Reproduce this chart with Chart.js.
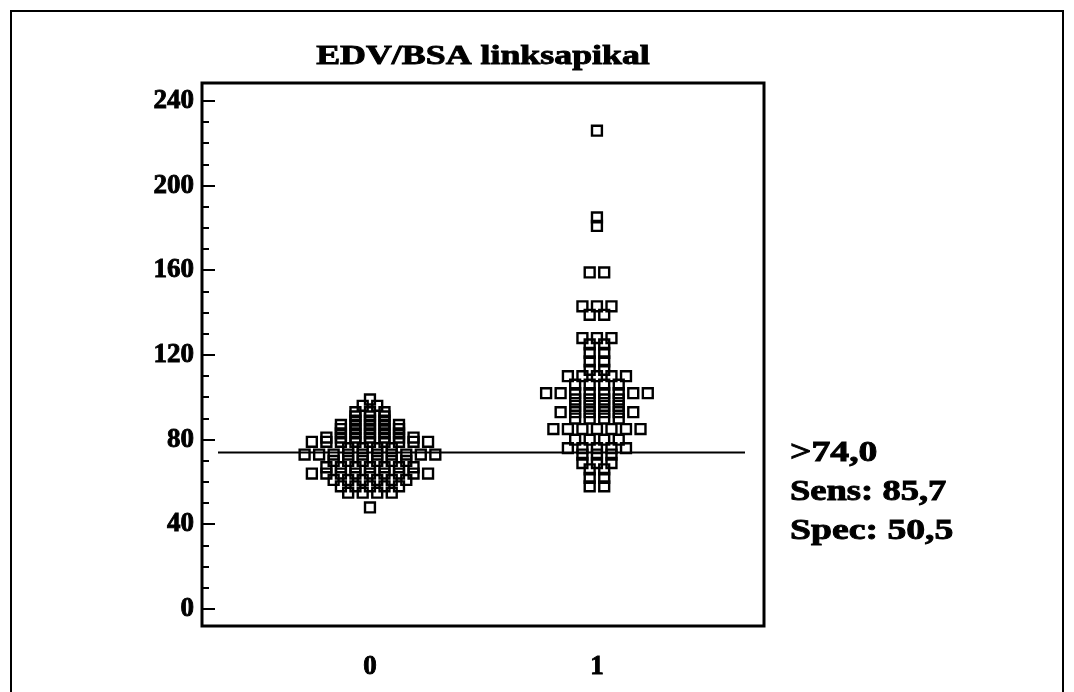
<!DOCTYPE html>
<html>
<head>
<meta charset="utf-8">
<script src="https://cdn.jsdelivr.net/npm/chart.js@4.4.1/dist/chart.umd.min.js"></script>
<style>
  html, body { margin: 0; padding: 0; background: #fff; }
  #wrap { width: 1074px; height: 692px; }
</style>
</head>
<body>
<div id="wrap"><canvas id="myChart" width="1074" height="692"></canvas></div>
<script>
var TITLE = 'EDV/BSA linksapikal';
var GROUPS = [0, 1];
var CUTOFF = 74;
var SENS = '85,7';
var SPEC = '50,5';

// EDV/BSA values per group
var group0 = [
    99,
    96, 96,
    93, 93, 93,
    91, 91, 91,
    89, 89, 89,
    87, 87, 87, 87, 87,
    85, 85, 85, 85, 85,
    83, 83, 83, 83, 83,
    81, 81, 81, 81, 81, 81, 81,
    79, 79, 79, 79, 79, 79, 79, 79, 79,
    76, 76, 76, 76,
    73, 73, 73, 73, 73, 73, 73, 73, 73, 73,
    70, 70, 70, 70, 70, 70,
    67, 67, 67, 67, 67, 67, 67,
    64, 64, 64, 64, 64, 64, 64, 64, 64,
    61, 61, 61, 61, 61, 61,
    58, 58, 58, 58, 58,
    55, 55, 55, 55,
    48
];
var group1 = [
    226,
    185,
    181,
    159, 159,
    143, 143, 143,
    139, 139,
    128, 128, 128,
    125, 125,
    121, 121,
    117, 117,
    113, 113,
    110, 110, 110, 110, 110,
    106, 106, 106, 106,
    102, 102, 102, 102, 102, 102, 102, 102,
    99, 99, 99, 99,
    96, 96, 96, 96,
    93, 93, 93, 93, 93, 93,
    90, 90, 90, 90,
    85, 85, 85, 85, 85, 85, 85,
    80, 80, 80, 80,
    76, 76, 76, 76, 76,
    73, 73, 73,
    69, 69, 69,
    66, 66,
    62, 62,
    58, 58
];
var yTicks = [0, 40, 80, 120, 160, 200, 240];

var SLOT = 0.064;   // horizontal spacing between equal values, in x units
var SERIF = '"Liberation Serif", "Times New Roman", serif';

// equal values sit side by side, centred on the group position
function swarm(values, gx) {
    var counts = {};
    values.forEach(function (v) { counts[v] = (counts[v] || 0) + 1; });
    var pts = [];
    Object.keys(counts).forEach(function (v) {
        var n = counts[v];
        for (var i = 0; i < n; i++) {
            pts.push({ x: gx + (i - (n - 1) / 2) * SLOT, y: Number(v) });
        }
    });
    return pts;
}

// heavy text, widened by sx
function stretchText(ctx, text, x, y, align, sx) {
    ctx.save();
    ctx.translate(x, y);
    ctx.scale(sx, 1);
    ctx.textAlign = align;
    ctx.textBaseline = 'alphabetic';
    ctx.lineWidth = 0.9;
    ctx.strokeText(text, 0, 0);
    ctx.fillText(text, 0, 0);
    ctx.restore();
}

var decor = {
    id: 'decor',
    beforeDatasetsDraw: function (chart) {
        var ctx = chart.ctx, a = chart.chartArea;
        var yc = chart.scales.y.getPixelForValue(CUTOFF);
        ctx.save();
        ctx.strokeStyle = '#000';
        ctx.lineWidth = 2;
        ctx.beginPath();
        ctx.moveTo(a.left + 16, yc);
        ctx.lineTo(a.right - 19, yc);
        ctx.stroke();
        ctx.restore();
    },
    afterDraw: function (chart) {
        var ctx = chart.ctx, a = chart.chartArea, ys = chart.scales.y;
        ctx.save();
        ctx.strokeStyle = '#000';
        ctx.fillStyle = '#000';

        // outer frame
        ctx.lineWidth = 2;
        ctx.strokeRect(11, 11, 1052, 700);

        // plot box
        ctx.lineWidth = 3;
        ctx.strokeRect(a.left, a.top, a.right - a.left, a.bottom - a.top);

        // inward ticks, long every 40
        ctx.lineWidth = 2;
        ys.ticks.forEach(function (t) {
            var py = Math.round(ys.getPixelForValue(t.value));
            var len = t.value % 40 === 0 ? 13 : 7;
            ctx.beginPath();
            ctx.moveTo(a.left, py);
            ctx.lineTo(a.left + len, py);
            ctx.stroke();
        });

        ctx.font = 'bold 28px ' + SERIF;
        stretchText(ctx, TITLE, (a.left + a.right) / 2, 64, 'center', 1.28);

        ctx.font = 'bold 29px ' + SERIF;
        var tx = a.right + 26;
        stretchText(ctx, '>' + CUTOFF.toFixed(1).replace('.', ','), tx, 461, 'left', 1.3);
        stretchText(ctx, 'Sens: ' + SENS, tx, 500, 'left', 1.26);
        stretchText(ctx, 'Spec: ' + SPEC, tx, 539, 'left', 1.3);
        ctx.restore();
    }
};

var pointStyle = {
    type: 'scatter',
    pointStyle: 'rect',
    pointRadius: 7,
    pointHoverRadius: 7,
    borderColor: '#000',
    borderWidth: 2.4,
    backgroundColor: 'rgba(0,0,0,0)'
};

var tickFont = { family: SERIF, size: 27, weight: 'bold' };

var CHART = document.getElementById('myChart');
var myChart = new Chart(CHART, {
    type: 'scatter',
    data: {
        datasets: [
            Object.assign({ label: '0', data: swarm(group0, GROUPS[0]) }, pointStyle),
            Object.assign({ label: '1', data: swarm(group1, GROUPS[1]) }, pointStyle)
        ]
    },
    options: {
        responsive: false,
        animation: false,
        events: [],
        layout: { padding: { top: 83, right: 310, bottom: 0, left: 0 } },
        plugins: {
            legend: { display: false },
            tooltip: { enabled: false }
        },
        scales: {
            x: {
                type: 'linear',
                min: -0.74,
                max: 1.736,
                grid: { display: false, drawTicks: false },
                border: { display: false },
                afterBuildTicks: function (s) {
                    s.ticks = GROUPS.map(function (v) { return { value: v }; });
                },
                afterFit: function (s) { s.height = 66; },
                ticks: {
                    padding: 25,
                    color: '#000',
                    textStrokeColor: '#000',
                    textStrokeWidth: 0.9,
                    font: tickFont,
                    callback: function (v) { return String(v); }
                }
            },
            y: {
                min: -8,
                max: 248.5,
                grid: { display: false, drawTicks: false },
                border: { display: false },
                afterBuildTicks: function (s) {
                    var t = [];
                    for (var v = 0; v <= 240; v += 10) t.push({ value: v });
                    s.ticks = t;
                },
                afterFit: function (s) { s.width = 202; },
                ticks: {
                    padding: 8,
                    color: '#000',
                    textStrokeColor: '#000',
                    textStrokeWidth: 0.9,
                    autoSkip: false,
                    font: tickFont,
                    callback: function (v) { return yTicks.indexOf(v) >= 0 ? String(v) : ''; }
                }
            }
        }
    },
    plugins: [decor]
});
</script>
</body>
</html>
